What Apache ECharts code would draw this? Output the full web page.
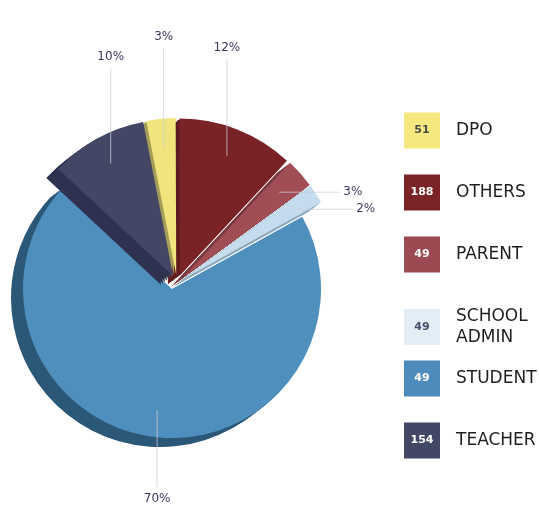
<!DOCTYPE html>
<html>
<head>
<meta charset="utf-8">
<title>Users by role</title>
<script src="https://cdn.jsdelivr.net/npm/echarts@6/dist/echarts.min.js"></script>
<style>
  html, body { margin: 0; padding: 0; background: #fff; }
  #main { width: 539px; height: 506px; }
</style>
</head>
<body>
<div id="main"></div>
<script>
  // data
  var categories = ['DPO', 'OTHERS', 'PARENT', 'SCHOOL\nADMIN', 'STUDENT', 'TEACHER'];
  var shares = [3, 12, 3, 2, 70, 10];          // % shown on the pie
  var counts = [51, 188, 49, 49, 49, 154];     // numbers in the legend boxes

  // colours
  var faceColors = ['#f2e47d', '#7a2327', '#a04d55', '#c4dced', '#4f8fbe', '#434665'];
  var sideColors = ['#a39d58', '#5f1a1e', '#7a3a40', '#8fa9bd', '#2c5878', '#2f3150'];
  var boxColors  = ['#f4e87e', '#7b2428', '#9b4a51', '#e2edf6', '#4d8bbd', '#434766'];
  var boxText    = ['#4a4a4a', '#fff', '#fff', '#44506a', '#fff', '#fff'];

  var STUDENT = 4;
  var START_ANGLE = 101, OFFSET = 8;
  var studentCenter = [172, 289], restCenter = [177, 283];
  var studentR = 149, restR = 157;
  var depth = [-12, 9], depthSteps = 6;
  var FONT = 'DejaVu Sans';
  var W = 539, H = 506;

  var chart = echarts.init(document.getElementById('main'));

  // build pie data; "onlyStudent" picks which slices are visible in this layer
  function pieData(onlyStudent, colors) {
    return shares.map(function (v, i) {
      var mine = (i === STUDENT) === onlyStudent;
      return {
        value: v,
        name: categories[i],
        selected: !onlyStudent,
        itemStyle: { color: mine ? colors[i] : 'rgba(0,0,0,0)' }
      };
    });
  }

  function pieSeries(onlyStudent, colors, shift) {
    var c = onlyStudent ? studentCenter : restCenter;
    return {
      type: 'pie',
      silent: true,
      animation: false,
      startAngle: START_ANGLE,
      clockwise: true,
      center: [c[0] + shift[0], c[1] + shift[1]],
      radius: [0, onlyStudent ? studentR : restR],
      selectedMode: 'multiple',
      selectedOffset: OFFSET,
      itemStyle: { borderWidth: 0 },
      label: { show: false },
      labelLine: { show: false },
      data: pieData(onlyStudent, colors)
    };
  }

  var series = [];
  [true, false].forEach(function (onlyStudent) {
    for (var k = depthSteps; k >= 1; k--) {
      var f = k / depthSteps;
      series.push(pieSeries(onlyStudent, sideColors, [depth[0] * f, depth[1] * f]));
    }
    series.push(pieSeries(onlyStudent, faceColors, [0, 0]));
  });

  // percentage labels with straight leader lines (vertical or horizontal)
  var total = shares.reduce(function (a, b) { return a + b; }, 0);
  var labelEls = [];
  var cum = 0;
  shares.forEach(function (v, i) {
    var mid = (START_ANGLE - (cum + v / 2) / total * 360) * Math.PI / 180;
    cum += v;
    var dir = [Math.cos(mid), -Math.sin(mid)];
    var c = i === STUDENT ? studentCenter
      : [restCenter[0] + OFFSET * dir[0], restCenter[1] + OFFSET * dir[1]];
    var R = i === STUDENT ? studentR : restR;
    var anchor = [c[0] + 0.82 * R * dir[0], c[1] + 0.82 * R * dir[1]];
    var edge = [c[0] + R * dir[0], c[1] + R * dir[1]];
    var pts, tx, ty, align;
    if (Math.abs(dir[1]) >= Math.abs(dir[0])) {
      var up = dir[1] < 0;
      ty = up ? edge[1] - 82 : Math.min(edge[1] + 80, H - 7);
      tx = anchor[0];
      align = 'center';
      pts = [anchor, [anchor[0], ty + (up ? 12 : -12)]];
    } else {
      var right = dir[0] > 0;
      var ex = anchor[0] + (right ? 60 : -60);
      tx = ex + (right ? 4 : -4);
      ty = anchor[1];
      align = right ? 'left' : 'right';
      pts = [anchor, [ex, anchor[1]]];
    }
    labelEls.push({
      type: 'polyline', z: 100, silent: true,
      shape: { points: pts },
      style: { stroke: 'rgba(205,205,215,0.75)', lineWidth: 1, fill: null }
    });
    labelEls.push({
      type: 'text', z: 100, silent: true, x: tx, y: ty,
      style: { text: v + '%', fill: '#3a3a5c', font: '12px ' + FONT,
               align: align, verticalAlign: 'middle' }
    });
  });

  // legend: coloured box with count, name to the right
  var legendEls = [];
  categories.forEach(function (name, i) {
    var lines = name.split('\n').length;
    var blockH = lines * 21;
    legendEls.push({
      type: 'group',
      x: 404,
      y: 120 + i * 62,
      children: [
        { type: 'rect', shape: { x: 0, y: blockH / 2 - 18, width: 36, height: 36 },
          style: { fill: boxColors[i] } },
        { type: 'text', x: 18, y: blockH / 2,
          style: { text: String(counts[i]), fill: boxText[i], font: 'bold 11px ' + FONT,
                   align: 'center', verticalAlign: 'middle' } },
        { type: 'text', x: 52, y: 0,
          style: { text: name, fill: '#1f1f1f', font: '17px ' + FONT, lineHeight: 21,
                   verticalAlign: 'top' } }
      ]
    });
  });

  chart.setOption({
    backgroundColor: '#fff',
    series: series,
    graphic: labelEls.concat(legendEls)
  });
</script>
</body>
</html>
